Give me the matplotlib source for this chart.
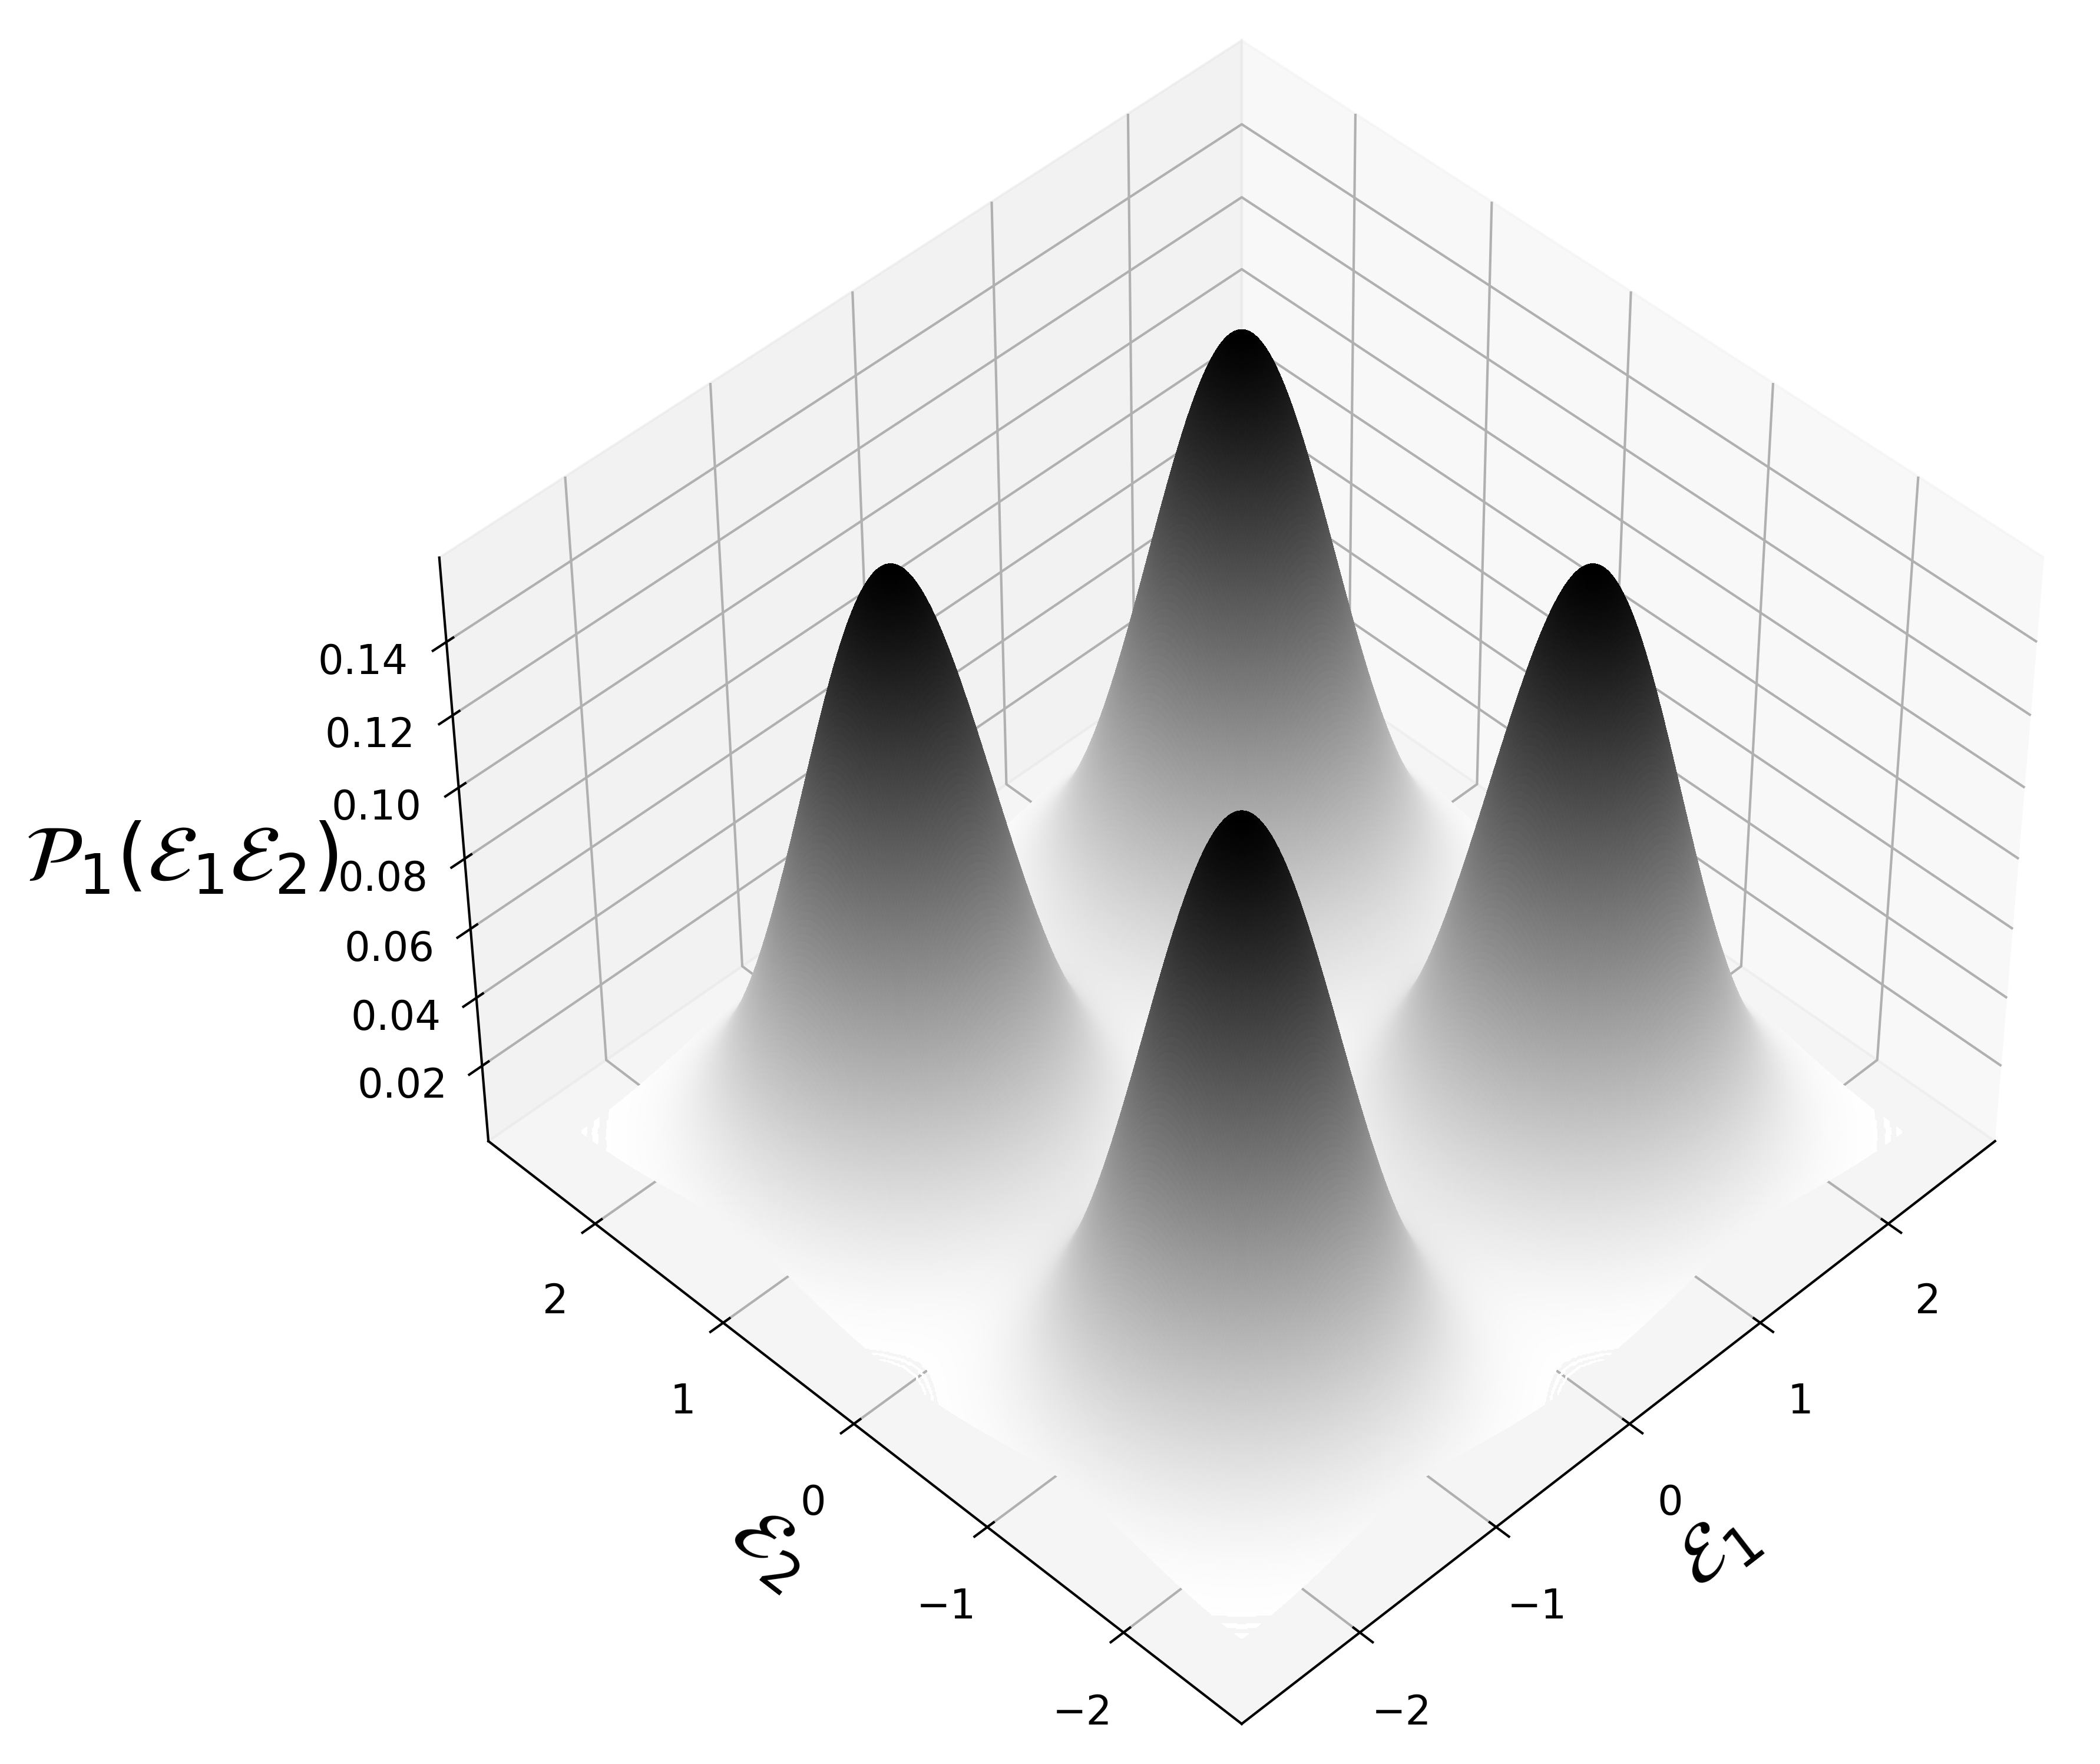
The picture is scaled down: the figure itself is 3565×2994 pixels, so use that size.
import numpy as np
import matplotlib
matplotlib.use("Agg")
import matplotlib.pyplot as plt

plt.rcParams["axes.linewidth"] = 1.0
plt.rcParams["grid.linewidth"] = 1.0
plt.rcParams["xtick.major.width"] = 1.0
plt.rcParams["ytick.major.width"] = 1.0

# the surface is four equal bumps
peak_e1 = [-1.25, 1.25, -1.25, 1.25]
peak_e2 = [-1.25, -1.25, 1.25, 1.25]
peak_height = [0.16, 0.16, 0.16, 0.16]
peak_width = 0.5
e_range = [-2.5, 2.5]
e_lim = [-2.85, 2.85]
z_lim = [-0.0025, 0.1626]
n_grid = 500

# height bands where the surface is still drawn, the rest is cut away
corner_bands = [(0.0008, 1.0), (0.00048, 0.00061), (0.00032, 0.0004)]
notch_bands = [(0.0011, 1.0), (0.00092, 0.00103), (0.00078, 0.00086)]

e_ticks = [-2, -1, 0, 1, 2]
z_ticks = [0.02, 0.04, 0.06, 0.08, 0.10, 0.12, 0.14]
z_tick_labels = ["0.02", "0.04", "0.06", "0.08", "0.10", "0.12", "0.14"]

e1 = np.linspace(e_range[0], e_range[1], n_grid)
e2 = np.linspace(e_range[0], e_range[1], n_grid)
E1, E2 = np.meshgrid(e1, e2)
P = np.zeros_like(E1)
for a, b, h in zip(peak_e1, peak_e2, peak_height):
    P += h * np.exp(-((E1 - a) ** 2 + (E2 - b) ** 2) / (2 * peak_width ** 2))

in_corner = (np.abs(E1) > peak_e1[1]) & (np.abs(E2) > peak_e2[2])
keep = np.zeros_like(P, dtype=bool)
for lo, hi in corner_bands:
    keep |= in_corner & (P >= lo) & (P < hi)
for lo, hi in notch_bands:
    keep |= ~in_corner & (P >= lo) & (P < hi)
P[~keep] = np.nan

fig = plt.figure(figsize=(3565 / 300, 2995 / 300), dpi=300)
ax = fig.add_axes([0.0963, 0.016, 0.968, 0.968], projection="3d")
ax.view_init(elev=45, azim=-135)

ax.plot_surface(E1, E2, P, cmap="gray_r", rstride=1, cstride=1,
                linewidth=0, antialiased=False)

ax.set_xlim(e_lim)
ax.set_ylim(e_lim)
ax.set_zlim(z_lim)
ax.set_xticks(e_ticks)
ax.set_yticks(e_ticks)
ax.set_zticks(z_ticks)
ax.set_zticklabels(z_tick_labels)
ax.tick_params(labelsize=16.5)
ax.tick_params(axis="x", pad=11)
ax.tick_params(axis="y", pad=11)
ax.tick_params(axis="z", pad=11)

ax.set_xlabel(r"$\mathcal{E}_1$", fontsize=32, labelpad=19)
ax.set_ylabel(r"$\mathcal{E}_2$", fontsize=32, labelpad=18)
ax.zaxis.set_rotate_label(False)
ax.set_zlabel(r"$\mathcal{P}_1(\mathcal{E}_1\mathcal{E}_2)$", fontsize=32.5, rotation=0, labelpad=45)

fig.savefig("out.png", dpi=300)
